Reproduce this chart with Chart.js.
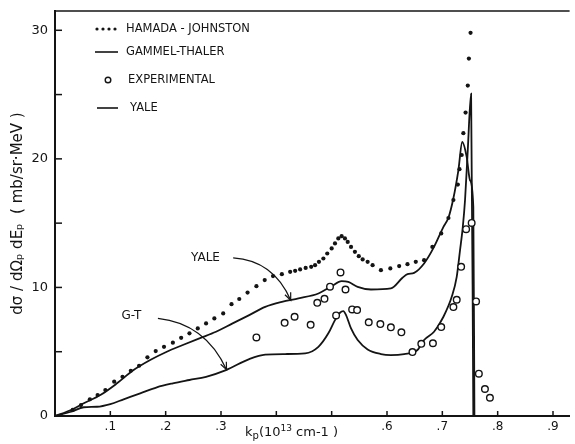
<!DOCTYPE html>
<html><head><meta charset="utf-8">
<script src="https://cdn.jsdelivr.net/npm/chart.js@4/dist/chart.umd.min.js"></script>
<style>html,body{margin:0;padding:0;background:#fff}#wrap{width:575px;height:444px}</style>
</head><body><div id="wrap"><canvas id="c" width="575" height="444"></canvas></div>
<script>
// ---- data (k_p in 10^13 cm^-1, cross section in mb/sr·MeV) ----
const hjK = [0.032,0.047,0.063,0.077,0.091,0.107,0.122,0.137,0.152,0.167,0.182,0.197,0.213,0.228,0.243,0.258,0.273,0.288,0.304,0.319,0.333,0.348,0.364,0.379,0.394,0.410,0.425,0.434,0.443,0.453,0.463,0.470,0.477,0.485,0.492,0.500,0.506,0.512,0.518,0.524,0.529,0.535,0.542,0.549,0.556,0.565,0.574,0.589,0.606,0.622,0.637,0.652,0.667,0.682,0.698,0.711,0.720,0.728,0.731,0.735,0.738,0.742,0.746,0.748,0.751];
const hjV = [0.47,0.85,1.30,1.63,2.02,2.67,3.05,3.52,3.91,4.56,5.05,5.38,5.70,6.08,6.43,6.81,7.20,7.59,7.98,8.70,9.10,9.60,10.10,10.57,10.88,11.03,11.21,11.29,11.40,11.52,11.60,11.73,11.99,12.25,12.64,13.03,13.42,13.81,13.99,13.81,13.54,13.15,12.77,12.43,12.18,11.99,11.73,11.34,11.48,11.66,11.81,11.99,12.12,13.15,14.2,15.4,16.8,18.0,19.2,20.3,22.0,23.6,25.7,27.8,29.8];

const gtK = [0,0.029,0.052,0.076,0.100,0.124,0.154,0.184,0.213,0.243,0.273,0.309,0.351,0.380,0.416,0.452,0.476,0.494,0.506,0.515,0.521,0.526,0.535,0.547,0.565,0.589,0.607,0.631,0.655,0.667,0.685,0.702,0.717,0.726,0.732,0.737,0.741,0.746,0.752,0.756];
const gtV = [0,0.33,0.68,0.72,0.93,1.30,1.76,2.23,2.54,2.80,3.05,3.57,4.43,4.78,4.82,4.87,5.38,6.43,7.46,8.03,8.16,7.85,6.81,5.91,5.18,4.82,4.74,4.82,5.13,5.91,6.55,7.72,9.27,10.82,12.90,14.71,16.78,20.7,25.07,0];

const yaleK = [0,0.029,0.052,0.082,0.112,0.142,0.172,0.202,0.231,0.261,0.291,0.321,0.351,0.380,0.410,0.440,0.476,0.500,0.518,0.530,0.547,0.571,0.607,0.628,0.637,0.649,0.667,0.685,0.702,0.711,0.720,0.729,0.736,0.744,0.750,0.756,0.758];
const yaleV = [0,0.47,0.99,1.63,2.54,3.57,4.35,5.00,5.52,6.04,6.55,7.20,7.85,8.49,8.88,9.15,9.53,10.10,10.49,10.43,10.05,9.84,9.92,10.75,11.03,11.13,11.86,13.15,14.71,15.42,16.94,19.11,21.31,20.15,18.34,16.26,0];

const expK = [0.364,0.415,0.433,0.462,0.474,0.487,0.497,0.508,0.516,0.525,0.537,0.546,0.567,0.588,0.607,0.626,0.646,0.662,0.683,0.698,0.720,0.726,0.734,0.743,0.753,0.761,0.766,0.777,0.786];
const expV = [6.11,7.25,7.72,7.09,8.80,9.11,10.06,7.82,11.17,9.84,8.29,8.24,7.29,7.15,6.90,6.51,4.97,5.61,5.66,6.92,8.47,9.04,11.60,14.53,15.02,8.91,3.29,2.10,1.42];

const xTickValues = [0,0.1,0.2,0.3,0.4,0.5,0.6,0.7,0.8,0.9];
const xTickLabels = ['','.1','.2','.3','','','.6','.7','.8','.9'];
const yTickValues = [0,5,10,15,20,25,30];
const yTickLabels = ['0','','10','','20','','30'];

const legendNames = ['HAMADA - JOHNSTON','GAMMEL-THALER','EXPERIMENTAL','YALE'];
const curveLabels = [{text:'YALE', x:0.272, y:12.3, from:[0.322,12.3], ctrl:[0.395,12.1], to:[0.426,9.0]},
                     {text:'G-T',  x:0.138, y:7.8,  from:[0.186,7.6],  ctrl:[0.272,7.2],  to:[0.310,3.6]}];

const pts = (k,v) => k.map((x,i)=>({x, y:v[i]}));
const INK = '#141414';
const FONT = 'DejaVu Sans, Liberation Sans, sans-serif';

function lblFor(values, labels, v){
  for (let i=0;i<values.length;i++) if (Math.abs(values[i]-v)<1e-6) return labels[i];
  return '';
}

const decor = {
  id:'decor',
  afterDraw(chart){
    const {ctx, chartArea:a, scales:{x,y}} = chart;
    ctx.save();
    ctx.strokeStyle = INK; ctx.fillStyle = INK;
    // top frame line
    ctx.lineWidth = 1.5;
    ctx.beginPath(); ctx.moveTo(a.left, a.top); ctx.lineTo(a.right, a.top); ctx.stroke();
    // inward tick marks
    ctx.lineWidth = 1.5;
    x.ticks.forEach(t=>{ if (t.value===0) return; const px=x.getPixelForValue(t.value);
      ctx.beginPath(); ctx.moveTo(px,a.bottom); ctx.lineTo(px,a.bottom-5); ctx.stroke(); });
    y.ticks.forEach(t=>{ if (t.value===0) return; const py=y.getPixelForValue(t.value);
      ctx.beginPath(); ctx.moveTo(a.left,py); ctx.lineTo(a.left+7,py); ctx.stroke(); });

    // x-axis title with sub/superscripts
    const runs = [['k',13,0],['p',10,3],['(10',13,0],['13',9,-5],[' cm-1 )',13,0]];
    let w=0; runs.forEach(r=>{ctx.font=r[1]+'px '+FONT; w+=ctx.measureText(r[0]).width;});
    let cx = x.getPixelForValue(0.4275) - w/2, cy = a.bottom + 20;
    ctx.textBaseline='alphabetic'; ctx.textAlign='left';
    runs.forEach(r=>{ctx.font=r[1]+'px '+FONT; ctx.fillText(r[0],cx,cy+r[2]); cx+=ctx.measureText(r[0]).width;});

    // legend
    ctx.font = '11.5px '+FONT; ctx.textBaseline='middle';
    const lx = a.left+40, tx = a.left+71;
    const rows = [a.top+18, a.top+41, a.top+69, a.top+97];
    for (let i=0;i<4;i++) ctx.beginPath(), ctx.arc(lx+2+i*6, rows[0], 1.6, 0, Math.PI*2), ctx.fill();
    ctx.lineWidth=1.6;
    ctx.beginPath(); ctx.moveTo(lx,rows[1]); ctx.lineTo(lx+23,rows[1]); ctx.stroke();
    ctx.lineWidth=1.4;
    ctx.beginPath(); ctx.arc(lx+13,rows[2],2.8,0,Math.PI*2); ctx.stroke();
    ctx.lineWidth=1.6;
    ctx.beginPath(); ctx.moveTo(lx+2,rows[3]); ctx.lineTo(lx+23,rows[3]); ctx.stroke();
    ctx.fillText(legendNames[0], tx, rows[0]);
    ctx.fillText(legendNames[1], tx, rows[1]);
    ctx.fillText(legendNames[2], tx+2, rows[2]);
    ctx.fillText(legendNames[3], tx+4, rows[3]);

    // curve labels with curved arrows
    ctx.font = '12px '+FONT; ctx.textAlign='center';
    ctx.lineWidth = 1.2;
    curveLabels.forEach(c=>{
      ctx.fillText(c.text, x.getPixelForValue(c.x), y.getPixelForValue(c.y));
      const p0=[x.getPixelForValue(c.from[0]), y.getPixelForValue(c.from[1])];
      const p1=[x.getPixelForValue(c.ctrl[0]), y.getPixelForValue(c.ctrl[1])];
      const p2=[x.getPixelForValue(c.to[0]), y.getPixelForValue(c.to[1])];
      ctx.beginPath(); ctx.moveTo(p0[0],p0[1]); ctx.quadraticCurveTo(p1[0],p1[1],p2[0],p2[1]); ctx.stroke();
      const ang = Math.atan2(p2[1]-p1[1], p2[0]-p1[0]);
      ctx.beginPath();
      ctx.moveTo(p2[0]-8*Math.cos(ang-0.4), p2[1]-8*Math.sin(ang-0.4));
      ctx.lineTo(p2[0],p2[1]);
      ctx.lineTo(p2[0]-8*Math.cos(ang+0.4), p2[1]-8*Math.sin(ang+0.4));
      ctx.stroke();
    });
    ctx.restore();
  }
};

new Chart(document.getElementById('c'), {
  type:'scatter',
  data:{ datasets:[
    {label:legendNames[0], data:pts(hjK,hjV), showLine:false, pointRadius:2.1, pointBackgroundColor:INK, pointBorderWidth:0},
    {label:legendNames[2], data:pts(expK,expV), showLine:false, pointRadius:3.3, pointBackgroundColor:'#fff', pointBorderColor:INK, pointBorderWidth:1.4},
    {label:legendNames[1], data:pts(gtK,gtV), showLine:true, pointRadius:0, borderColor:INK, borderWidth:1.8, cubicInterpolationMode:'monotone'},
    {label:legendNames[3], data:pts(yaleK,yaleV), showLine:true, pointRadius:0, borderColor:INK, borderWidth:1.8, cubicInterpolationMode:'monotone'}
  ]},
  options:{
    responsive:false, animation:false, devicePixelRatio:1,
    layout:{padding:{top:11, left:0, right:0, bottom:0}},
    plugins:{legend:{display:false}, tooltip:{enabled:false}},
    scales:{
      x:{type:'linear', min:0, max:0.93,
         afterBuildTicks:s=>{ s.ticks = xTickValues.map(v=>({value:v})); },
         afterFit:s=>{ s.height=28; s.paddingLeft=0; s.paddingRight=0; },
         grid:{display:false, drawTicks:false}, border:{display:true, color:INK, width:2},
         ticks:{padding:4, color:INK, autoSkip:false, maxRotation:0,
                font:{family:FONT, size:12}, callback:v=>lblFor(xTickValues,xTickLabels,v)}},
      y:{type:'linear', min:0, max:31.5,
         afterBuildTicks:s=>{ s.ticks = yTickValues.map(v=>({value:v})); },
         afterFit:s=>{ s.width=55; s.paddingTop=0; s.paddingBottom=0; },
         grid:{display:false, drawTicks:false}, border:{display:true, color:INK, width:2},
         ticks:{padding:7, color:INK, autoSkip:false,
                font:{family:FONT, size:13}, callback:v=>lblFor(yTickValues,yTickLabels,v)},
         title:{display:true, text:'dσ / dΩₚ dEₚ  ( mb/sr·MeV )', color:INK,
                font:{family:FONT, size:15}, padding:{top:9, bottom:0}}}
    }
  },
  plugins:[decor]
});
</script></body></html>
